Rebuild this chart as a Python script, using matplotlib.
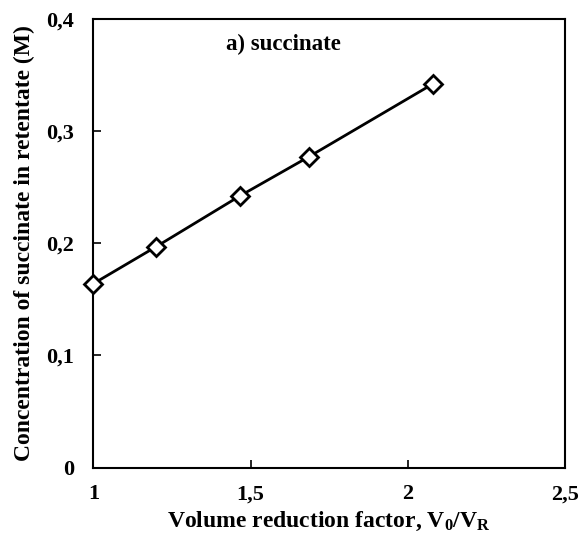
import matplotlib
matplotlib.use("Agg")
import matplotlib.pyplot as plt
from matplotlib.ticker import FuncFormatter

vrf = [1.0, 1.20, 1.465, 1.685, 2.08]
conc = [0.164, 0.197, 0.242, 0.277, 0.342]
xticks = [1, 1.5, 2, 2.5]
yticks = [0, 0.1, 0.2, 0.3, 0.4]

plt.rcParams['font.family'] = ['Liberation Serif', 'DejaVu Serif']
plt.rcParams['font.weight'] = 'bold'
plt.rcParams['mathtext.fontset'] = 'custom'
plt.rcParams['mathtext.rm'] = 'Liberation Serif:bold'
plt.rcParams['mathtext.it'] = 'Liberation Serif:bold'
plt.rcParams['mathtext.bf'] = 'Liberation Serif:bold'

fig = plt.figure(figsize=(5.8, 5.37), dpi=100)
ax = fig.add_axes([0.161, 0.129, 0.813, 0.836])
ax.plot(vrf, conc, color='black', lw=2, marker='D', markersize=9.5,
        markerfacecolor='white', markeredgecolor='black', markeredgewidth=2,
        clip_on=False, zorder=3)
ax.set_xlim(1, 2.5)
ax.set_ylim(0, 0.4)
ax.set_xticks(xticks)
ax.set_yticks(yticks)
fmt = FuncFormatter(lambda v, p: ('%g' % v).replace('.', ','))
ax.xaxis.set_major_formatter(fmt)
ax.yaxis.set_major_formatter(fmt)
ax.tick_params(direction='in', length=6, width=1.2, labelsize=16)
ax.tick_params(axis='x', pad=12)
ax.tick_params(axis='y', pad=14)
for s in ax.spines.values():
    s.set_linewidth(1.5)
ax.set_xlabel('Volume reduction factor, V$_\\mathrm{0}$/V$_\\mathrm{R}$',
              fontsize=17, fontweight='bold', labelpad=4)
ax.set_ylabel('Concentration of succinate in retentate (M)',
              fontsize=17, fontweight='bold', labelpad=8)
ax.text(1.605, 0.377, 'a) succinate', fontsize=16.5, fontweight='bold',
        ha='center', va='center')
fig.savefig('out.png', dpi=100)
